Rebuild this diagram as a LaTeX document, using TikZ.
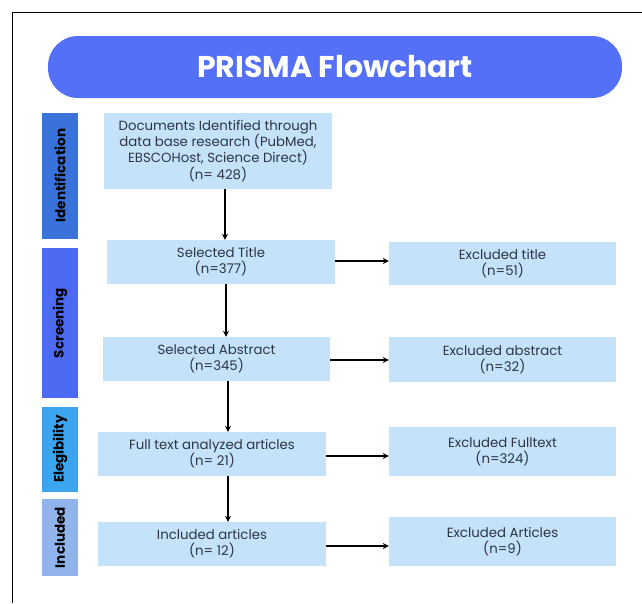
\documentclass[tikz,border=0pt]{standalone}
\usepackage{fontspec}
\setmainfont{Poppins}
\usetikzlibrary{arrows.meta}
\definecolor{boxblue}{HTML}{C4E3FB}
\definecolor{pillblue}{HTML}{5470F7}
\definecolor{idblue}{HTML}{3A72DC}
\definecolor{scrblue}{HTML}{4D6AF2}
\definecolor{eliblue}{HTML}{3BA5F0}
\definecolor{incblue}{HTML}{92B4EC}
\definecolor{txt}{HTML}{2E3440}
\tikzset{
  flowbox/.style={fill=boxblue, draw=none, align=center, text=txt, font=\fontsize{13.3}{16.2}\selectfont, inner sep=0pt},
  sidebar/.style={draw=none, minimum height=36pt, rotate=90, text=black, font=\fontsize{13.5}{15}\selectfont\bfseries, inner sep=0pt},
  arr/.style={-{Stealth[length=6pt,width=6pt]}, line width=1.4pt, black}
}
\begin{document}
\begin{tikzpicture}[x=1pt,y=-1pt]
\useasboundingbox (0,0) rectangle (642,603);
\fill[white] (0,0) rectangle (642,603);
% frame
\draw[line width=1pt] (12,603) -- (12,12) -- (642,12);
% title pill
\node[fill=pillblue, rounded corners=30pt, minimum width=574pt, minimum height=62pt, inner sep=0pt, text=white, font=\fontsize{30}{34}\selectfont\bfseries] (head) at (335,67) {PRISMA Flowchart};
% side bars
\node[sidebar, fill=idblue, minimum width=126pt] (sid) at (60,175.5) {Identification};
\node[sidebar, fill=scrblue, minimum width=150pt] (sscr) at (60,323) {Screening};
\node[sidebar, fill=eliblue, minimum width=85pt] (seli) at (60,449) {Elegibility};
\node[sidebar, fill=incblue, minimum width=77pt] (sinc) at (60,537.5) {Included};
% main boxes
\node[flowbox, minimum width=228pt, minimum height=76pt] (docs) at (218,151) {Documents Identified through\\data base research (PubMed,\\EBSCOHost, Science Direct)\\(n= 428)};
\node[flowbox, minimum width=228pt, minimum height=44pt] (seltitle) at (221,262) {Selected Title\\(n=377)};
\node[flowbox, minimum width=227pt, minimum height=44pt] (selabs) at (216.5,359) {Selected Abstract\\(n=345)};
\node[flowbox, minimum width=228pt, minimum height=44pt] (full) at (212,454) {Full text analyzed articles\\(n= 21)};
\node[flowbox, minimum width=228pt, minimum height=44pt] (incl) at (212,544) {Included articles\\(n= 12)};
% excluded boxes
\node[flowbox, minimum width=227pt, minimum height=43pt] (extitle) at (502.5,263.5) {Excluded title\\(n=51)};
\node[flowbox, minimum width=227pt, minimum height=45pt] (exabs) at (502.5,359.5) {Excluded abstract\\(n=32)};
\node[flowbox, minimum width=227pt, minimum height=49pt] (exfull) at (502.5,451.5) {Excluded Fulltext\\(n=324)};
\node[flowbox, minimum width=227pt, minimum height=49pt] (exart) at (502.5,541.5) {Excluded Articles\\(n=9)};
% vertical arrows
\draw[arr] ([xshift=7pt]docs.south) -- ([xshift=7pt]docs.south |- seltitle.north);
\draw[arr] ([xshift=5pt]seltitle.south) -- ([xshift=5pt]seltitle.south |- selabs.north);
\draw[arr] ([xshift=11.5pt]selabs.south) -- ([xshift=11.5pt]selabs.south |- full.north);
\draw[arr] ([xshift=16pt]full.south) -- ([xshift=16pt]full.south |- incl.north);
% horizontal arrows
\draw[arr] ([yshift=1pt]seltitle.east) -- ([yshift=1pt]seltitle.east -| extitle.west);
\draw[arr] ([yshift=-1pt]selabs.east) -- ([yshift=-1pt]selabs.east -| exabs.west);
\draw[arr] ([yshift=-2pt]full.east) -- ([yshift=-2pt]full.east -| exfull.west);
\draw[arr] ([yshift=-2pt]incl.east) -- ([yshift=-2pt]incl.east -| exart.west);
\end{tikzpicture}
\end{document}
